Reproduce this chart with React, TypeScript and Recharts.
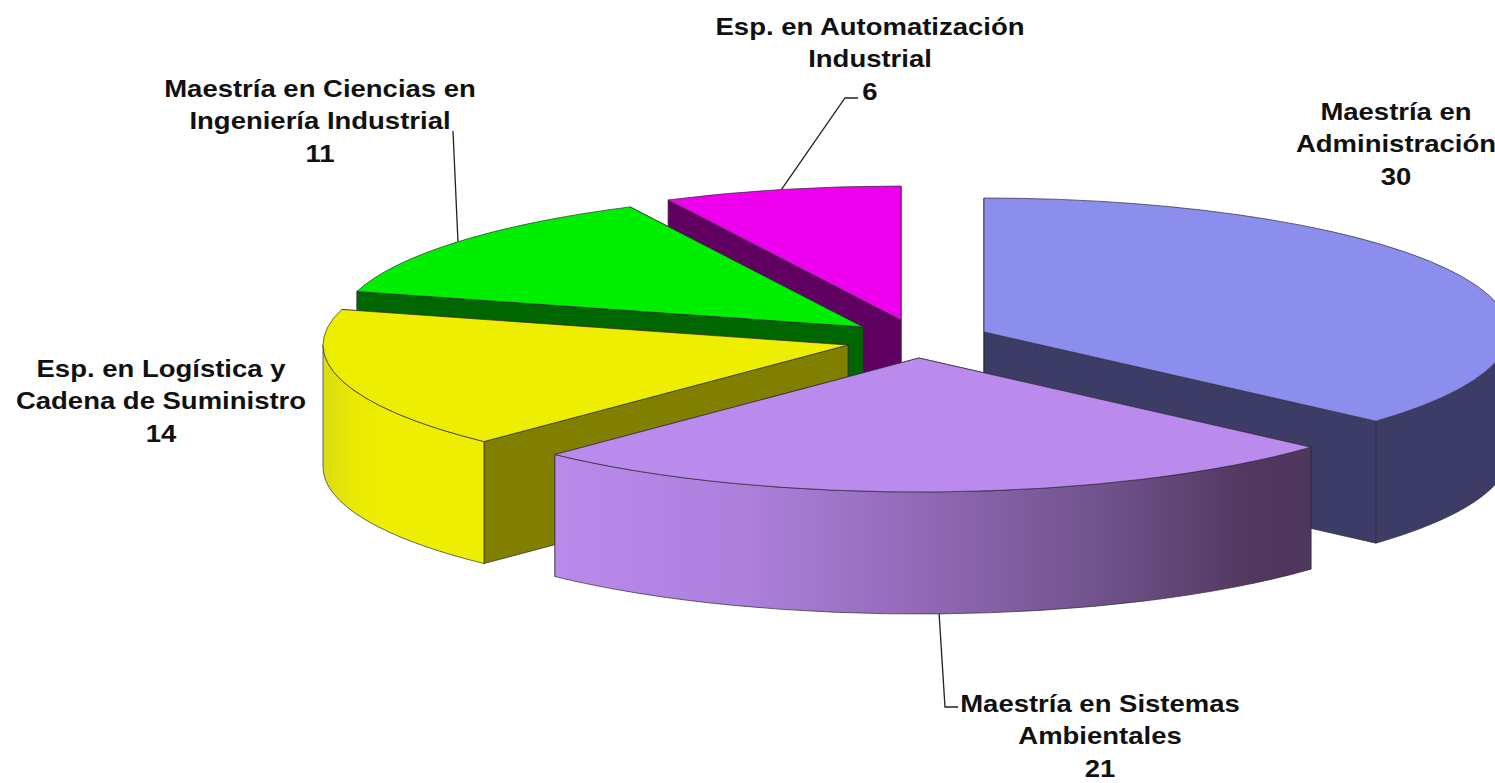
import React from "react";
import { PieChart, Pie } from "recharts";

const admin = "Maestría en Administración";
const sistemas = "Maestría en Sistemas Ambientales";
const logistica = "Esp. en Logística y Cadena de Suministro";
const ciencias = "Maestría en Ciencias en Ingeniería Industrial";
const automat = "Esp. en Automatización Industrial";

// Paint order (back to front) runs counter-clockwise, beginning at the Administración slice.
const categories = [admin, automat, ciencias, logistica, sistemas];
const values = [30, 6, 11, 14, 21];
const labelLines = [
  ["Maestría en", "Administración"],
  ["Esp. en Automatización", "Industrial"],
  ["Maestría en Ciencias en", "Ingeniería Industrial"],
  ["Esp. en Logística y", "Cadena de Suministro"],
  ["Maestría en Sistemas", "Ambientales"],
];

const rows = categories.map((name, i) => ({ name, value: values[i] }));
const total = values.reduce((a, b) => a + b, 0);

const W = 1495;
const H = 783;
const CX = 900;
const CY = 340;
const RX = 525;
const RY = 134;
const DEPTH = 122;
const START = 90 - (360 * values[0]) / total;
const EDGE = "#2c2c38";

type Look = {
  dx: number; dy: number; top: string; side: string;
  wall: string | [number, string][]; textX: number; textY: number;
  leader?: [number, number][]; onWall?: boolean;
};

const looks: Look[] = [
  { dx: 84, dy: -8, top: "#8b8eec", side: "#3c3c66", wall: "#3c3c66", textX: 1396, textY: 120 },
  { dx: 1, dy: -20, top: "#ee00ee", side: "#600060", wall: "#600060", textX: 870, textY: 35,
    leader: [[845, 98], [858, 98]] },
  { dx: -37, dy: -13, top: "#00ee00", side: "#006600", wall: "#006600", textX: 320, textY: 97,
    leader: [[453, 131]] },
  { dx: -52, dy: 5, top: "#eeee00", side: "#807f00",
    wall: [[0, "#dcdc12"], [0.2, "#eaea02"], [0.4, "#eeee00"], [1, "#eeee00"]],
    textX: 161, textY: 377 },
  { dx: 19, dy: 18, top: "#ba8aec", side: "#50365f",
    wall: [[0, "#ba8aec"], [0.25, "#ad80dc"], [0.5, "#8f68b4"], [0.75, "#6c4f86"], [0.92, "#523760"], [1, "#4f365d"]],
    textX: 1100, textY: 712, leader: [[945, 707], [958, 707]], onWall: true },
];

const rad = (d: number) => (d * Math.PI) / 180;
const px = (cx: number, a: number) => cx + RX * Math.cos(rad(a));
const py = (cy: number, a: number) => cy - RY * Math.sin(rad(a));

function wallRange(a0: number, a1: number): [number, number] | null {
  for (const [lo, hi] of [[-180, 0], [180, 360], [540, 720]]) {
    const s = Math.max(a0, lo);
    const e = Math.min(a1, hi);
    if (e > s) return [s, e];
  }
  return null;
}

function Slice(props: any) {
  const look = looks[categories.indexOf(props.name)];
  const cx = props.cx + look.dx;
  const cy = props.cy + look.dy;
  const a0 = props.startAngle;
  const a1 = props.endAngle;
  const range = wallRange(a0, a1);
  const radial = (a: number) =>
    `M${cx},${cy} L${px(cx, a)},${py(cy, a)} L${px(cx, a)},${py(cy, a) + DEPTH} L${cx},${cy + DEPTH} Z`;
  const gradId = `wall-${categories.indexOf(props.name)}`;
  const stops = Array.isArray(look.wall) ? look.wall : null;
  return (
    <g>
      {stops && range && (
        <defs>
          <linearGradient
            id={gradId}
            gradientUnits="userSpaceOnUse"
            x1={Math.min(px(cx, range[0]), px(cx, range[1]), range[0] < 270 && range[1] > 270 ? cx : Infinity)}
            x2={Math.max(px(cx, range[0]), px(cx, range[1]))}
            y1={0}
            y2={0}
          >
            {stops.map(([o, c]) => (
              <stop key={o} offset={o} stopColor={c} />
            ))}
          </linearGradient>
        </defs>
      )}
      <path d={radial(a0)} fill={look.side} stroke={EDGE} strokeWidth={0.7} />
      <path d={radial(a1)} fill={look.side} stroke={EDGE} strokeWidth={0.7} />
      {range && (
        <path
          d={`M${px(cx, range[0])},${py(cy, range[0])} A${RX},${RY} 0 0 0 ${px(cx, range[1])},${py(cy, range[1])} L${px(cx, range[1])},${py(cy, range[1]) + DEPTH} A${RX},${RY} 0 0 1 ${px(cx, range[0])},${py(cy, range[0]) + DEPTH} Z`}
          fill={stops ? `url(#${gradId})` : (look.wall as string)}
          stroke={EDGE}
          strokeWidth={0.7}
        />
      )}
      <path
        d={`M${cx},${cy} L${px(cx, a0)},${py(cy, a0)} A${RX},${RY} 0 ${a1 - a0 > 180 ? 1 : 0} 0 ${px(cx, a1)},${py(cy, a1)} Z`}
        fill={look.top}
        stroke={EDGE}
        strokeWidth={0.7}
      />
    </g>
  );
}

function SliceLabel(props: any) {
  const i = categories.indexOf(props.name);
  const look = looks[i];
  const cx = props.cx + look.dx;
  const cy = props.cy + look.dy;
  const mid = props.midAngle;
  const lines = [...labelLines[i], String(values[i])];
  const leader = look.leader
    ? [[px(cx, mid), py(cy, mid) + (look.onWall ? DEPTH : 0)], ...look.leader]
    : null;
  return (
    <g>
      {leader && (
        <polyline
          points={leader.map((p) => p.join(",")).join(" ")}
          fill="none"
          stroke="#222"
          strokeWidth={1.3}
        />
      )}
      <text
        x={0}
        y={look.textY}
        transform={`translate(${look.textX},0) scale(1.17,1)`}
        textAnchor="middle"
        fill="#111"
        stroke="none"
        fontFamily="'Liberation Sans', Arial, sans-serif"
        fontWeight="bold"
        fontSize={23.5}
      >
        {lines.map((t, k) => (
          <tspan key={k} x={0} dy={k === 0 ? 0 : 32.5}>
            {t}
          </tspan>
        ))}
      </text>
    </g>
  );
}

export default function App() {
  return (
    <div style={{ position: "absolute", left: 0, top: 0, width: W, height: H, overflow: "hidden", background: "#fff" }}>
      <PieChart width={W} height={H} margin={{ top: 0, right: 0, bottom: 0, left: 0 }}>
        <Pie
          data={rows}
          dataKey="value"
          nameKey="name"
          cx={CX}
          cy={CY}
          innerRadius={0}
          outerRadius={RX}
          startAngle={START}
          endAngle={START + 360}
          paddingAngle={0}
          stroke="none"
          shape={Slice}
          label={SliceLabel}
          labelLine={false}
          isAnimationActive={false}
        />
      </PieChart>
    </div>
  );
}
